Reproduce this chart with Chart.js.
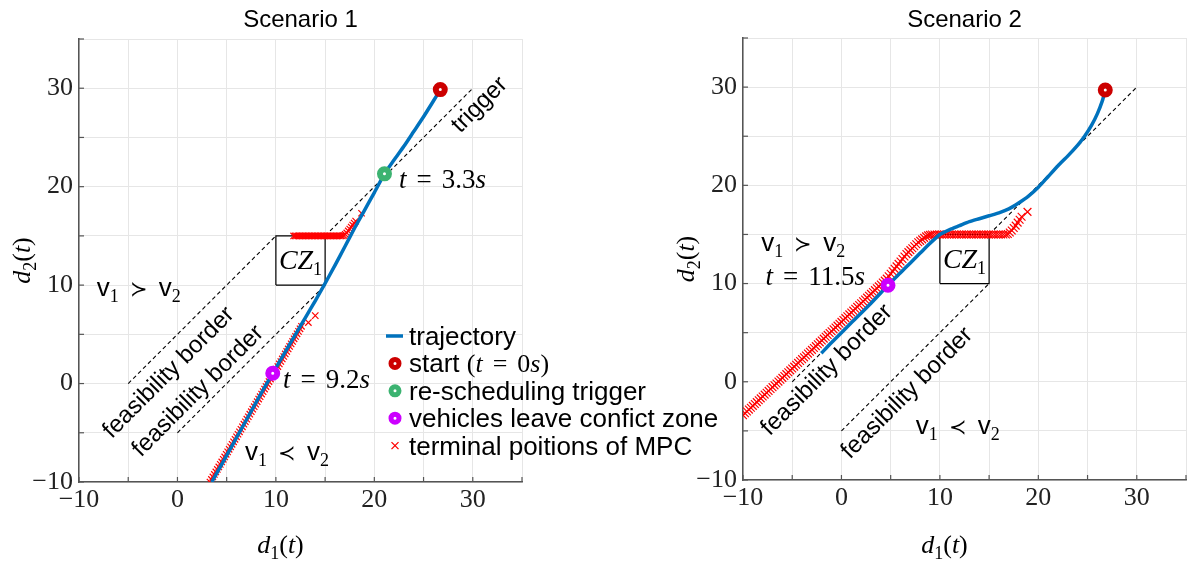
<!DOCTYPE html>
<html>
<head>
<meta charset="utf-8">
<script src="https://cdn.jsdelivr.net/npm/chart.js@4.4.1/dist/chart.umd.min.js"></script>
<style>
  body { margin: 0; background: #fff; width: 1195px; height: 565px; overflow: hidden; position: relative; }
  canvas { position: absolute; top: 0; }
  #left { left: 0; z-index: 2; }
  #right { left: 600px; z-index: 1; }
</style>
</head>
<body>
<canvas id="right" width="595" height="565"></canvas>
<canvas id="left" width="740" height="565"></canvas>
<script>
'use strict';
//axes
const axisMin = -10;
const axisMax = 35;
const tickStep = 5;
const tickLabels = ['\u221210', '', '0', '', '10', '', '20', '', '30', ''];

//conflict zone box and dashed borders (same in both scenarios)
const czX = [10, 15, 15, 10, 10];
const czY = [10, 10, 15, 15, 10];
const borderUpX = [-5, 10];
const borderUpY = [0, 15];
const borderLowX = [0, 15];
const borderLowY = [-5, 10];
const triggerX = [15, 30];
const triggerY = [15, 30];

//scenario 1
const s1TrajX = [26.7, 26.0, 25.0, 24.0, 23.0, 22.0, 21.03, 20.0, 19.0, 18.0, 17.0, 16.0, 14.9, 14.0, 13.0, 12.0, 11.0, 9.68, 8.5, 7.0, 5.5, 4.5, 3.49];
const s1TrajY = [29.86, 28.7, 27.1, 25.6, 24.1, 22.7, 21.3, 19.4, 17.6, 15.8, 13.9, 12.0, 10.0, 8.4, 6.7, 5.0, 3.3, 1.04, -1.0, -3.7, -6.4, -8.2, -10.0];
const s1MpcX = [3.30, 3.45, 3.60, 3.75, 3.90, 4.05, 4.20, 4.35, 4.50, 4.65, 4.80, 4.95, 5.10, 5.25, 5.40, 5.55, 5.70, 5.85, 6.00, 6.15,
  6.30, 6.45, 6.60, 6.75, 6.90, 7.05, 7.20, 7.35, 7.50, 7.65, 7.80, 7.95, 8.10, 8.25, 8.40, 8.55, 8.70, 8.85, 9.00, 9.15,
  9.30, 9.45, 9.60, 9.75, 9.90, 10.05, 10.20, 10.35, 10.50, 10.65, 10.80, 10.95, 11.10, 11.25, 11.40, 11.55, 11.70, 11.85, 12.00, 12.15,
  12.30, 12.45, 12.60, 13.3, 14.0,
  11.80, 11.95, 12.10, 12.25, 12.40, 12.55, 12.70, 12.85, 13.00, 13.15, 13.30, 13.45, 13.60, 13.75, 13.90, 14.05, 14.20,
  14.35, 14.50, 14.65, 14.80, 14.95, 15.10, 15.25, 15.40, 15.55, 15.70, 15.85, 16.00, 16.15, 16.30, 16.45, 16.60, 16.75,
  16.9, 17.05, 17.2, 17.35, 17.5, 17.65, 17.8, 17.95, 18.1, 18.7];
const s1MpcY = [-10.00, -9.74, -9.49, -9.23, -8.98, -8.72, -8.47, -8.21, -7.96, -7.70, -7.45, -7.19, -6.94, -6.68, -6.43, -6.17, -5.92, -5.66, -5.41, -5.15,
  -4.90, -4.64, -4.39, -4.13, -3.88, -3.62, -3.37, -3.11, -2.86, -2.60, -2.35, -2.09, -1.84, -1.58, -1.33, -1.07, -0.82, -0.56, -0.31, -0.05,
  0.20, 0.46, 0.71, 0.97, 1.22, 1.48, 1.73, 1.99, 2.24, 2.50, 2.75, 3.01, 3.26, 3.52, 3.77, 4.03, 4.28, 4.54, 4.79, 5.05,
  5.30, 5.56, 5.81, 6.2, 6.9,
  15, 15, 15, 15, 15, 15, 15, 15, 15, 15, 15, 15, 15, 15, 15, 15, 15,
  15, 15, 15, 15, 15, 15, 15, 15, 15, 15, 15, 15, 15, 15, 15, 15, 15,
  15.05, 15.15, 15.3, 15.5, 15.7, 15.9, 16.1, 16.3, 16.5, 17.3];
const s1Start = [26.7, 29.86];
const s1Trigger = [21.03, 21.3];
const s1Leave = [9.68, 1.04];

//scenario 2
const s2TrajX = [26.8, 26.5, 26.0, 25.4, 24.7, 24.0, 23.0, 22.0, 21.0, 20.0, 19.0, 18.0, 17.0, 16.0, 15.0, 14.0, 13.0, 12.0, 11.0, 10.0, 9.0, 8.0, 7.0, 6.0, 4.73, 3.0, 1.0, -1.0, -2.05];
const s2TrajY = [29.7, 28.6, 27.3, 26.1, 25.0, 24.1, 23.0, 22.0, 20.9, 19.8, 18.9, 18.2, 17.6, 17.2, 16.9, 16.6, 16.3, 15.9, 15.5, 15.0, 14.1, 13.1, 12.1, 11.1, 9.83, 8.0, 6.0, 4.0, 2.9];
const s2MpcX = [-10.0, -9.8, -9.6, -9.4, -9.2, -9.0, -8.8, -8.6, -8.4, -8.2, -8.0, -7.8, -7.6, -7.4, -7.2, -7.0, -6.8, -6.6, -6.4, -6.2,
  -6.0, -5.8, -5.6, -5.4, -5.2, -5.0, -4.8, -4.6, -4.4, -4.2, -4.0, -3.8, -3.6, -3.4, -3.2, -3.0, -2.8, -2.6, -2.4, -2.2,
  -2.0, -1.8, -1.6, -1.4, -1.2, -1.0, -0.8, -0.6, -0.4, -0.2, 0.0, 0.2, 0.4, 0.6, 0.8, 1.0, 1.2, 1.4, 1.6, 1.8,
  2.0, 2.2, 2.4, 2.6, 2.8, 3.0, 3.2, 3.4, 3.6, 3.8, 4.0, 4.2, 4.4, 4.6, 4.8, 5.0, 5.2, 5.4, 5.6, 5.8,
  6.0, 6.2, 6.4, 6.6, 6.8, 7.0, 7.2, 7.4, 7.6, 7.8, 8.0, 8.2, 8.4, 8.6, 8.8, 9.0, 9.2,
  9.45, 9.7, 9.95, 10.2, 10.45, 10.7, 10.95, 11.2, 11.45, 11.7, 11.95, 12.2, 12.45, 12.7, 12.95,
  13.2, 13.45, 13.7, 13.95, 14.2, 14.45, 14.7, 14.95, 15.2, 15.45, 15.7, 15.95, 16.2, 16.45, 16.7,
  16.9, 17.1, 17.3, 17.5, 17.7, 17.9, 18.1, 18.3, 18.9];
const s2MpcY = [-3.40, -3.21, -3.02, -2.83, -2.64, -2.45, -2.26, -2.07, -1.88, -1.69, -1.50, -1.31, -1.12, -0.93, -0.74, -0.55, -0.36, -0.17, 0.02, 0.21,
  0.40, 0.59, 0.78, 0.97, 1.16, 1.35, 1.54, 1.73, 1.92, 2.11, 2.30, 2.49, 2.68, 2.87, 3.06, 3.25, 3.44, 3.63, 3.82, 4.01,
  4.20, 4.39, 4.58, 4.77, 4.96, 5.15, 5.34, 5.53, 5.72, 5.91, 6.10, 6.29, 6.48, 6.67, 6.86, 7.05, 7.24, 7.43, 7.62, 7.81,
  8.00, 8.19, 8.38, 8.57, 8.76, 8.95, 9.14, 9.33, 9.52, 9.71, 9.90, 10.1, 10.3, 10.5, 10.75, 11.0, 11.25, 11.5, 11.75, 12.0,
  12.25, 12.5, 12.75, 13.0, 13.2, 13.4, 13.6, 13.8, 14.0, 14.2, 14.35, 14.5, 14.65, 14.8, 14.9, 14.95, 15.0,
  15, 15, 15, 15, 15, 15, 15, 15, 15, 15, 15, 15, 15, 15, 15,
  15, 15, 15, 15, 15, 15, 15, 15, 15, 15, 15, 15, 15, 15, 15,
  15.05, 15.2, 15.4, 15.65, 15.9, 16.2, 16.5, 16.8, 17.3];
const s2Start = [26.8, 29.7];
const s2Leave = [4.73, 9.83];

//fonts
const serifF = '"Liberation Serif", "DejaVu Serif", serif';
const sansF = '"Liberation Sans", Arial, sans-serif';

//rich text pieces
const it = (t, s = 27) => ({ t, f: `italic ${s}px ${serifF}` });
const rm = (t, s = 27) => ({ t, f: `${s}px ${serifF}` });
const sf = (t, s = 26) => ({ t, f: `${s}px ${sansF}` });
const sub = (t, s = 18) => ({ t, f: `${s}px ${serifF}`, dy: 6 });
const gap = g => ({ g });
const rel = t => ({ t, f: '21px "DejaVu Serif"' });

function tEq(val, s = 27){
  return [it('t', s), gap(10), rm('=', s), gap(10), rm(val, s), it('s', s)];
}
function vRel(sym){
  return [sf('v'), sub('1'), gap(11), rel(sym), gap(11), sf('v'), sub('2')];
}
function axisLabel(n){
  return [it('d', 26), sub(n), rm('(', 26), it('t', 26), rm(')', 26)];
}
const feas = [sf('feasibility border', 24)];
const czLabel = [it('CZ', 28), sub('1')];

function drawRich(ctx, parts, x, y, align){
  let w = 0;
  parts.forEach(p => {
    if (p.g) { w += p.g; } else { ctx.font = p.f; w += ctx.measureText(p.t).width; }
  });
  let cx = align === 'center' ? x - w / 2 : x;
  ctx.textAlign = 'left';
  ctx.textBaseline = 'alphabetic';
  parts.forEach(p => {
    if (p.g) { cx += p.g; return; }
    ctx.font = p.f;
    ctx.fillText(p.t, cx, y + (p.dy || 0));
    cx += ctx.measureText(p.t).width;
  });
}

//draws title, axis labels, inward ticks, annotations and legend
const overlay = {
  id: 'overlay',
  afterDraw(chart, args, o){
    const { ctx, chartArea: a } = chart;
    const xs = chart.scales.x;
    const ys = chart.scales.y;
    ctx.save();
    ctx.strokeStyle = '#555';
    ctx.lineWidth = 1.2;
    for (let v = axisMin; v <= axisMax; v += tickStep) {
      const px = xs.getPixelForValue(v);
      const py = ys.getPixelForValue(v);
      ctx.beginPath(); ctx.moveTo(px, a.bottom); ctx.lineTo(px, a.bottom - 5); ctx.stroke();
      ctx.beginPath(); ctx.moveTo(a.left, py); ctx.lineTo(a.left + 5, py); ctx.stroke();
    }
    ctx.fillStyle = '#000';
    ctx.font = `24px ${sansF}`;
    ctx.textAlign = 'center';
    ctx.textBaseline = 'middle';
    ctx.fillText(o.title, (a.left + a.right) / 2, 20);

    drawRich(ctx, axisLabel('1'), (a.left + a.right) / 2 - 20, 553, 'center');
    ctx.save();
    ctx.translate(o.yLabelX, (a.top + a.bottom) / 2);
    ctx.rotate(-Math.PI / 2);
    drawRich(ctx, axisLabel('2'), 0, 8, 'center');
    ctx.restore();

    o.texts.forEach(t => {
      const px = xs.getPixelForValue(t.x);
      const py = ys.getPixelForValue(t.y);
      if (t.rot) {
        ctx.save();
        ctx.translate(px, py);
        ctx.rotate(t.rot * Math.PI / 180);
        drawRich(ctx, t.parts, 0, 8, 'center');
        ctx.restore();
      } else {
        drawRich(ctx, t.parts, px, py + 8, t.align || 'left');
      }
    });

    if (o.legend) {
      const L = o.legend;
      L.items.forEach((item, i) => {
        const cy = L.y + i * L.dy;
        const mx = L.x + 9;
        if (item.kind === 'line') {
          ctx.strokeStyle = item.color; ctx.lineWidth = 3.5;
          ctx.beginPath(); ctx.moveTo(L.x, cy); ctx.lineTo(L.x + 17, cy); ctx.stroke();
        } else if (item.kind === 'ring') {
          ctx.strokeStyle = item.color; ctx.lineWidth = 5;
          ctx.fillStyle = '#fff';
          ctx.beginPath(); ctx.arc(mx, cy, 4, 0, Math.PI * 2); ctx.fill(); ctx.stroke();
        } else {
          ctx.strokeStyle = item.color; ctx.lineWidth = 1.3;
          ctx.beginPath();
          ctx.moveTo(mx - 3.5, cy - 3.5); ctx.lineTo(mx + 3.5, cy + 3.5);
          ctx.moveTo(mx + 3.5, cy - 3.5); ctx.lineTo(mx - 3.5, cy + 3.5);
          ctx.stroke();
        }
        ctx.fillStyle = '#000';
        drawRich(ctx, item.parts, L.x + 23, cy + 9, 'left');
      });
    }
    ctx.restore();
  }
};

function pts(xs, ys){
  return xs.map((x, i) => ({ x, y: ys[i] }));
}

function scaleOpts(isX, fitSize){
  return {
    type: 'linear',
    min: axisMin,
    max: axisMax,
    ticks: {
      stepSize: tickStep,
      autoSkip: false,
      maxRotation: 0,
      padding: isX ? 3 : 6,
      color: '#222',
      font: { family: serifF, size: 26 },
      callback: (v, i) => tickLabels[i] || ''
    },
    grid: { color: '#e6e6e6', lineWidth: 1, drawTicks: false },
    border: { display: true, color: '#555', width: 1.5 },
    afterFit: s => { if (isX) { s.height = fitSize; } else { s.width = fitSize; } }
  };
}

function lineSet(xs, ys, color, width, dash, order){
  return {
    data: pts(xs, ys), showLine: true, borderColor: color, borderWidth: width,
    borderDash: dash || [], pointRadius: 0, tension: 0, order: order
  };
}
function ringSet(p, color){
  return {
    data: [{ x: p[0], y: p[1] }], showLine: false, pointStyle: 'circle',
    pointRadius: 4.5, pointBorderWidth: 6, pointBackgroundColor: '#fff',
    pointBorderColor: color, borderColor: color, order: 0
  };
}
function mpcSet(xs, ys, r){
  return {
    data: pts(xs, ys), showLine: false, pointStyle: 'crossRot', pointRadius: r,
    pointBorderWidth: 1.2, pointBorderColor: '#ff0000', borderColor: '#ff0000', order: 2
  };
}
function trajSet(xs, ys){
  const d = lineSet(xs, ys, '#0072bd', 3.5, null, 1);
  d.tension = 0.2;
  return d;
}
function staticSets(){
  return [
    lineSet(czX, czY, '#000', 1.2, null, 3),
    lineSet(borderUpX, borderUpY, '#000', 1.1, [4, 3], 3),
    lineSet(borderLowX, borderLowY, '#000', 1.1, [4, 3], 3),
    lineSet(triggerX, triggerY, '#000', 1.1, [4, 3], 3)
  ];
}

function makeChart(id, datasets, padding, yWidth, xHeight, overlayOpts){
  return new Chart(document.getElementById(id), {
    type: 'scatter',
    data: { datasets: datasets },
    options: {
      responsive: false,
      animation: false,
      devicePixelRatio: 1,
      events: [],
      layout: { padding: padding, autoPadding: false },
      scales: { x: scaleOpts(true, xHeight), y: scaleOpts(false, yWidth) },
      plugins: { legend: { display: false }, tooltip: { enabled: false }, overlay: overlayOpts }
    },
    plugins: [overlay]
  });
}

//scenario 1 (left)
makeChart('left', [
  ringSet(s1Start, '#cc0000'),
  ringSet(s1Trigger, '#3cb371'),
  ringSet(s1Leave, '#cc00ff'),
  trajSet(s1TrajX, s1TrajY),
  mpcSet(s1MpcX, s1MpcY, 4.5)
].concat(staticSets()), { left: 0, top: 39, right: 218, bottom: 0 }, 79, 83, {
  title: 'Scenario 1',
  yLabelX: 22,
  texts: [
    { x: 30.6, y: 28.4, rot: -45, parts: [sf('trigger', 24)] },
    { x: 22.5, y: 20.7, parts: tEq('3.3') },
    { x: 12.5, y: 12.4, align: 'center', parts: czLabel },
    { x: -8.2, y: 9.7, parts: vRel('\u227b') },
    { x: -0.98, y: 1.2, rot: -45, parts: feas },
    { x: 2.0, y: -0.68, rot: -45, parts: feas },
    { x: 10.73, y: 0.36, parts: tEq('9.2') },
    { x: 6.87, y: -6.94, parts: vRel('\u227a') }
  ],
  legend: {
    x: 386, y: 336, dy: 27.4,
    items: [
      { kind: 'line', color: '#0072bd', parts: [sf('trajectory')] },
      { kind: 'ring', color: '#cc0000', parts: [sf('start '), rm('(', 26)].concat(tEq('0', 26), [rm(')', 26)]) },
      { kind: 'ring', color: '#3cb371', parts: [sf('re-scheduling trigger')] },
      { kind: 'ring', color: '#cc00ff', parts: [sf('vehicles leave confict zone')] },
      { kind: 'cross', color: '#ff0000', parts: [sf('terminal poitions of MPC')] }
    ]
  }
});

//scenario 2 (right)
makeChart('right', [
  ringSet(s2Start, '#cc0000'),
  ringSet(s2Leave, '#cc00ff'),
  trajSet(s2TrajX, s2TrajY),
  mpcSet(s2MpcX, s2MpcY, 5.5)
].concat(staticSets()), { left: 0, top: 38, right: 9, bottom: 0 }, 143, 85, {
  title: 'Scenario 2',
  yLabelX: 86,
  texts: [
    { x: -8.15, y: 14.08, parts: vRel('\u227b') },
    { x: -7.71, y: 10.67, parts: tEq('11.5') },
    { x: 12.5, y: 12.4, align: 'center', parts: czLabel },
    { x: -1.57, y: 1.29, rot: -45, parts: feas },
    { x: 6.58, y: -1.07, rot: -45, parts: feas },
    { x: 7.55, y: -4.47, parts: vRel('\u227a') }
  ]
});
</script>
</body>
</html>
